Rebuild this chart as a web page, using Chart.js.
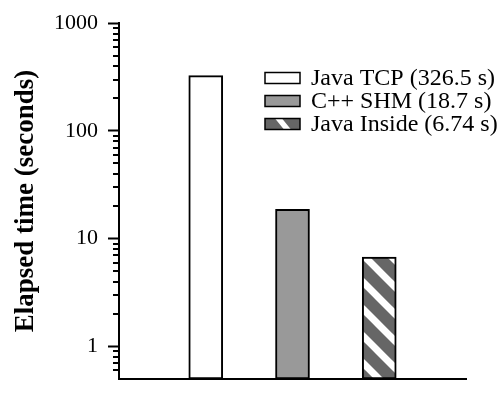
<!DOCTYPE html>
<html>
<head>
<meta charset="utf-8">
<script src="https://cdn.jsdelivr.net/npm/chart.js@4/dist/chart.umd.min.js"></script>
<style>
  html,body{margin:0;padding:0;background:#fff;}
  #wrap{width:498px;height:402px;}
</style>
</head>
<body>
<div id="wrap"><canvas id="elapsedChart"></canvas></div>
<script>
// Data
const categories = ['', 'Java TCP', 'C++ SHM', 'Java Inside', ''];
const seriesNames = ['Java TCP', 'C++ SHM', 'Java Inside'];
const elapsed = [326.5, 18.7, 6.74];
const legendValues = ['326.5', '18.7', '6.74'];
const majorTicks = [1, 10, 100, 1000];
const minorSteps = [2, 3, 4, 5, 6, 7, 8, 9];

const SERIF = '"Liberation Serif", "Times New Roman", serif';

// hatch for Java Inside
function hatchPattern(){
  const n = 27;
  const c = document.createElement('canvas');
  c.width = n; c.height = n;
  const g = c.getContext('2d');
  g.fillStyle = '#666666';
  g.fillRect(0, 0, n, n);
  g.strokeStyle = '#ffffff';
  g.lineWidth = 7;
  [-n, 0, n].forEach(o=>{
    g.beginPath();
    g.moveTo(-5, -5 + o);
    g.lineTo(n + 5, n + 5 + o);
    g.stroke();
  });
  return g.createPattern(c, 'repeat');
}

const fills = ['#ffffff', '#999999', hatchPattern()];

const datasets = seriesNames.map((name, i)=>({
  label: `${name} (${legendValues[i]} s)`,
  data: categories.map(c => c === name ? elapsed[i] : null),
  backgroundColor: fills[i],
  borderColor: '#000',
  borderWidth: 2,
  borderSkipped: false,
  grouped: false,
  barThickness: 34
}));

// minor ticks on the log axis
const minorTickPlugin = {
  id: 'minorTicks',
  afterDraw(chart){
    const y = chart.scales.y;
    const ctx = chart.ctx;
    ctx.save();
    ctx.strokeStyle = '#000';
    ctx.lineWidth = 2;
    [0.1, 1, 10, 100].forEach(d=>{
      minorSteps.forEach(k=>{
        const v = k * d;
        if(v <= y.min || v >= y.max) return;
        const py = Math.round(y.getPixelForValue(v));
        ctx.beginPath();
        ctx.moveTo(y.right - 6, py);
        ctx.lineTo(y.right, py);
        ctx.stroke();
      });
    });
    ctx.restore();
  }
};

// legend inside the plot, top right
const boxLegendPlugin = {
  id: 'boxLegend',
  afterDraw(chart){
    const ctx = chart.ctx;
    ctx.save();
    chart.data.datasets.forEach((ds, i)=>{
      const cy = 78 + i * 23;
      const bx = 265, bw = 35, bh = 11, by = cy - bh / 2;
      ctx.fillStyle = i === 2 ? '#666666' : ds.backgroundColor;
      ctx.fillRect(bx, by, bw, bh);
      if(i === 2){
        ctx.save();
        ctx.beginPath();
        ctx.rect(bx, by, bw, bh);
        ctx.clip();
        ctx.fillStyle = '#fff';
        ctx.beginPath();
        ctx.moveTo(bx + 10, by);
        ctx.lineTo(bx + 17, by);
        ctx.lineTo(bx + 26, by + bh);
        ctx.lineTo(bx + 19, by + bh);
        ctx.closePath();
        ctx.fill();
        ctx.restore();
      }
      ctx.strokeStyle = '#000';
      ctx.lineWidth = 1.5;
      ctx.strokeRect(bx, by, bw, bh);
      ctx.fillStyle = '#000';
      ctx.font = `24px ${SERIF}`;
      ctx.textAlign = 'left';
      ctx.textBaseline = 'middle';
      ctx.fillText(ds.label, 311, cy + 1);
    });
    ctx.restore();
  }
};

new Chart(document.getElementById('elapsedChart'), {
  type: 'bar',
  data: { labels: categories, datasets },
  options: {
    responsive: true,
    maintainAspectRatio: false,
    animation: false,
    layout: { padding: { left: 0, right: 32, top: 16, bottom: 2 } },
    plugins: { legend: { display: false }, tooltip: { enabled: false } },
    scales: {
      x: {
        offset: false,
        grid: { display: false },
        ticks: { display: false },
        border: { display: true, color: '#000', width: 2 },
        afterFit(s){ s.height = 0; }
      },
      y: {
        type: 'logarithmic',
        min: 0.5,
        max: 1000,
        afterBuildTicks(s){ s.ticks = majorTicks.map(v=>({ value: v })); },
        afterFit(s){ s.width = 119; },
        ticks: {
          color: '#000',
          font: { family: SERIF, size: 22 },
          padding: 10,
          callback: v => String(v)
        },
        grid: {
          display: true,
          drawOnChartArea: false,
          drawTicks: true,
          tickLength: 11,
          tickWidth: 2,
          tickColor: '#000'
        },
        border: { display: true, color: '#000', width: 2 },
        title: {
          display: true,
          text: 'Elapsed time (seconds)',
          color: '#000',
          font: { family: SERIF, size: 27, weight: 'bold' },
          padding: { top: 10, bottom: 0 }
        }
      }
    }
  },
  plugins: [minorTickPlugin, boxLegendPlugin]
});
</script>
</body>
</html>
